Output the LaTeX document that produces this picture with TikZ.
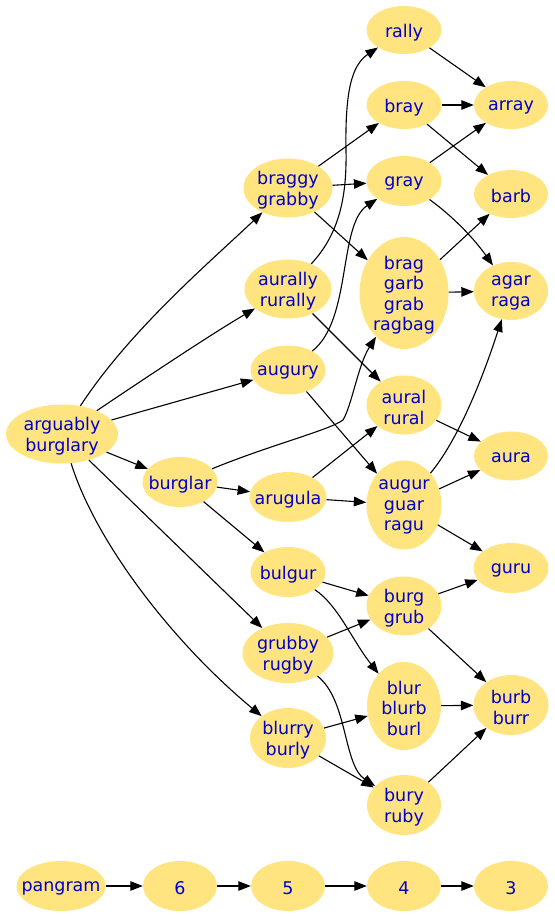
\documentclass[tikz,border=0pt]{standalone}
\usepackage{fontspec}
\setmainfont{DejaVu Sans}
\usetikzlibrary{shapes.geometric,arrows.meta}
\definecolor{nodefill}{RGB}{255,228,128}
\definecolor{nodetext}{RGB}{0,0,205}
\tikzset{
  wn/.style={ellipse, fill=nodefill, draw=none, inner sep=0pt},
  wtext/.style={inner sep=0pt, align=center, text=nodetext,
    font=\fontsize{17.5}{20.6}\selectfont, yshift=-2.2pt},
  edge/.style={draw=black, line width=1.1pt, -{Triangle[length=12.5pt,width=9.5pt]}}
}
\newcommand{\wnode}[6]{\node[wn, minimum width=#4pt, minimum height=#5pt,
  label={[wtext]center:#6}] (#1) at (#2,#3) {};}
\begin{document}
\begin{tikzpicture}[x=1pt,y=-1pt]
\useasboundingbox (0,0) rectangle (554,917);
\wnode{rally}{404}{30}{75}{48}{rally}
\wnode{array}{511}{105}{74}{48}{array}
\wnode{bray}{404}{105}{75}{48}{bray}
\wnode{gray}{404}{181}{75}{50}{gray}
\wnode{barb}{511}{194}{74}{48}{barb}
\wnode{braggy}{288}{188}{89}{59}{braggy\\grabby}
\wnode{brag}{404}{293}{89}{112}{brag\\garb\\grab\\ragbag}
\wnode{agar}{511}{291}{74}{58}{agar\\raga}
\wnode{aurally}{288}{289}{87}{59}{aurally\\rurally}
\wnode{augury}{288}{370}{75}{49}{augury}
\wnode{aural}{404}{405}{75}{59}{aural\\rural}
\wnode{arguably}{62}{434}{112}{59}{arguably\\burglary}
\wnode{aura}{511}{456}{74}{49}{aura}
\wnode{burglar}{180}{482}{75}{50}{burglar}
\wnode{arugula}{288}{497}{77}{50}{arugula}
\wnode{augur}{404}{505}{75}{89}{augur\\guar\\ragu}
\wnode{bulgur}{288}{572}{75}{50}{bulgur}
\wnode{guru}{511}{568}{75}{50}{guru}
\wnode{burg}{404}{606}{75}{59}{burg\\grub}
\wnode{grubby}{288}{653}{91}{60}{grubby\\rugby}
\wnode{blur}{404}{706}{74}{88}{blur\\blurb\\burl}
\wnode{burb}{511}{705}{75}{60}{burb\\burr}
\wnode{blurry}{288}{738}{76}{60}{blurry\\burly}
\wnode{bury}{404}{805}{74}{60}{bury\\ruby}
\wnode{pangram}{61}{886}{89}{50}{pangram}
\wnode{n6}{180}{886}{74}{50}{6}
\wnode{n5}{288}{886}{74}{50}{5}
\wnode{n4}{404}{886}{74}{50}{4}
\wnode{n3}{511}{886}{74}{50}{3}
\coordinate (r1) at (346,150);
\coordinate (b1) at (343,420);
% from arguably
\draw[edge] (arguably) .. controls (130,330) and (210,262) .. (braggy);
\draw[edge] (arguably) .. controls (150,375) and (210,335) .. (aurally);
\draw[edge] (arguably) -- (augury);
\draw[edge] (arguably) -- (burglar);
\draw[edge] (arguably) -- (grubby);
\draw[edge] (arguably) .. controls (95,540) and (170,640) .. (blurry);
% braggy
\draw[edge] (braggy) -- (bray);
\draw[edge] (braggy) -- (gray);
\draw[edge] (braggy) -- (brag);
% aurally
\draw[edge] (aurally) .. controls (338,235) and (347,200) .. (r1) .. controls (345,90) and (352,65) .. (rally);
\draw[edge] (aurally) -- (aural);
% augury
\draw[edge] (augury) .. controls (352,320) and (338,225) .. (gray);
\draw[edge] (augury) -- (augur);
% burglar
\draw[edge] (burglar) .. controls (270,445) and (330,430) .. (b1) .. controls (352,405) and (358,365) .. (brag);
\draw[edge] (burglar) -- (arugula);
\draw[edge] (burglar) -- (bulgur);
% arugula
\draw[edge] (arugula) -- (aural);
\draw[edge] (arugula) -- (augur);
% bulgur
\draw[edge] (bulgur) -- (burg);
\draw[edge] (bulgur) .. controls (338,605) and (352,640) .. (blur);
% grubby
\draw[edge] (grubby) -- (burg);
\draw[edge] (grubby) .. controls (348,700) and (343,765) .. (bury);
% blurry
\draw[edge] (blurry) -- (blur);
\draw[edge] (blurry) -- (bury);
% right column
\draw[edge] (rally) -- (array);
\draw[edge] (bray) -- (array);
\draw[edge] (bray) -- (barb);
\draw[edge] (gray) -- (array);
\draw[edge] (gray) .. controls (455,218) and (475,240) .. (agar);
\draw[edge] (brag) -- (barb);
\draw[edge] (brag) -- (agar);
\draw[edge] (aural) -- (aura);
\draw[edge] (augur) .. controls (458,440) and (482,380) .. (agar);
\draw[edge] (augur) -- (aura);
\draw[edge] (augur) -- (guru);
\draw[edge] (burg) -- (guru);
\draw[edge] (burg) -- (burb);
\draw[edge] (blur) -- (burb);
\draw[edge] (bury) -- (burb);
% bottom chain
\draw[edge] (pangram) -- (n6);
\draw[edge] (n6) -- (n5);
\draw[edge] (n5) -- (n4);
\draw[edge] (n4) -- (n3);
\end{tikzpicture}
\end{document}
